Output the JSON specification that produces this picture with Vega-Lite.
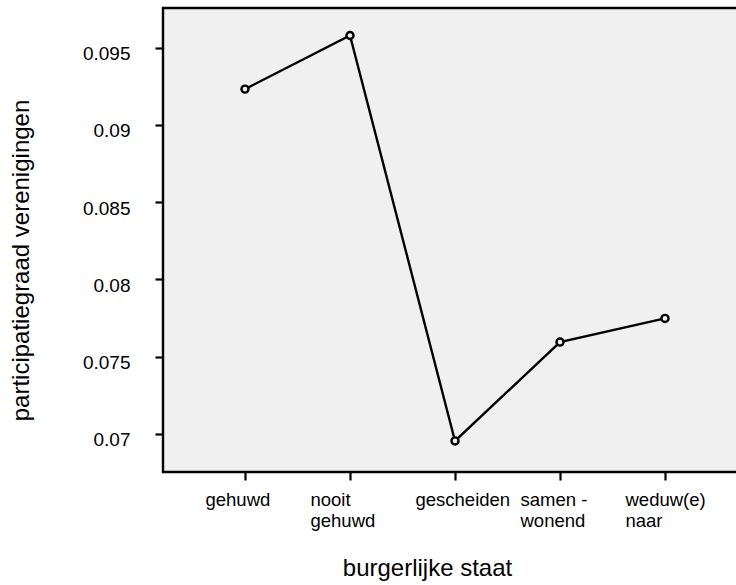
{
  "$schema": "https://vega.github.io/schema/vega-lite/v6.json",
  "autosize": "none",
  "padding": {"left": 163, "top": 8, "right": 0, "bottom": 113},
  "width": 584,
  "height": 464,
  "background": "white",
  "config": {
    "font": "Liberation Sans",
    "view": {"fill": "#f0f0f0", "stroke": "black", "strokeWidth": 2.4},
    "axis": {
      "domain": false,
      "grid": false,
      "tickColor": "black",
      "tickWidth": 2.2,
      "tickSize": 8,
      "labelColor": "black",
      "labelFont": "Liberation Sans",
      "titleFont": "Liberation Sans",
      "titleColor": "black",
      "titleFontWeight": "normal",
      "titleFontSize": 24
    }
  },
  "data": {
    "values": [
      {"staat": "gehuwd", "participatie": 0.09232},
      {"staat": "nooit gehuwd", "participatie": 0.09579},
      {"staat": "gescheiden", "participatie": 0.06955},
      {"staat": "samen - wonend", "participatie": 0.07595},
      {"staat": "weduw(e)naar", "participatie": 0.07748}
    ]
  },
  "encoding": {
    "x": {
      "field": "staat",
      "type": "nominal",
      "sort": null,
      "scale": {"type": "point", "padding": 0.781},
      "axis": {
        "title": "burgerlijke staat",
        "titleX": 264,
        "titleY": 103,
        "titleAlign": "center",
        "titleBaseline": "alphabetic",
        "labelAngle": 0,
        "labelAlign": "left",
        "labelOffset": -40,
        "labelBaseline": "top",
        "labelPadding": 10,
        "labelFontSize": 18.5,
        "labelLineHeight": 21,
        "labelExpr": "datum.value == 'nooit gehuwd' ? ['nooit', 'gehuwd'] : datum.value == 'samen - wonend' ? ['samen -', 'wonend'] : datum.value == 'weduw(e)naar' ? ['weduw(e)', 'naar'] : datum.value"
      }
    },
    "y": {
      "field": "participatie",
      "type": "quantitative",
      "scale": {"domain": [0.06754, 0.09757], "nice": false, "zero": false},
      "axis": {
        "title": "participatiegraad verenigingen",
        "titleX": -135,
        "titleY": 252,
        "titleAngle": -90,
        "titleAlign": "center",
        "titleBaseline": "alphabetic",
        "values": [0.07, 0.075, 0.08, 0.085, 0.09, 0.095],
        "format": ".3~f",
        "labelFontSize": 19,
        "labelPadding": 25,
        "labelBaseline": "middle",
        "labelOffset": 6
      }
    }
  },
  "layer": [
    {"mark": {"type": "line", "color": "black", "strokeWidth": 2.4}},
    {"mark": {"type": "point", "filled": true, "fill": "#f0f0f0", "stroke": "black", "strokeWidth": 2.4, "size": 50, "opacity": 1}}
  ]
}
